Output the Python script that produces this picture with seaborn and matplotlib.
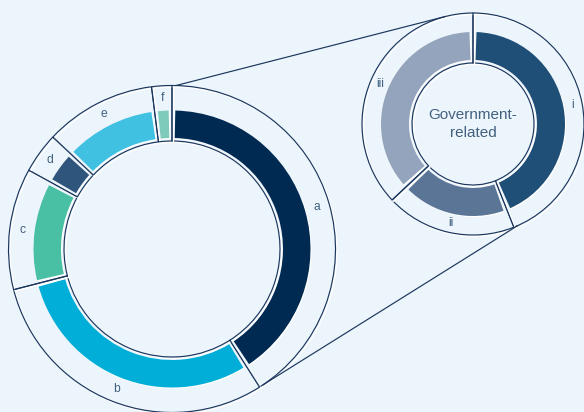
import numpy as np
import matplotlib
matplotlib.use("Agg")
import matplotlib.pyplot as plt
import matplotlib.patheffects as pe
import seaborn as sns

# Portfolio split and the breakdown of its largest slice
sectors = ["a", "b", "c", "d", "e", "f"]
sector_shares = [41, 30, 12, 4, 11, 2]
sub_sectors = ["i", "ii", "iii"]
sub_shares = [44, 19, 37]
centre_label = "Government-\nrelated"

sector_colors = ["#012a52", "#00aed8", "#49bfa4", "#2f557c", "#40c1e2", "#7fcbb9"]
sub_colors = ["#1f4e76", "#5b7596", "#93a4bc"]

BG = "#edf5fc"
LINE = "#1b365d"
TEXT = "#42607f"

sns.set_theme(style="white", rc={"figure.facecolor": BG, "axes.facecolor": BG})
plt.rcParams["font.family"] = ["Liberation Sans", "DejaVu Sans"]

W, H = 584, 412
fig = plt.figure(figsize=(W / 100, H / 100), dpi=100)
ax = fig.add_axes([0, 0, 1, 1])

line_shadow = [pe.SimpleLineShadow(offset=(1.1, -1.1), shadow_color="white", alpha=1.0),
               pe.Normal()]
patch_shadow = [pe.SimplePatchShadow(offset=(0.8, -0.8), shadow_rgbFace="white", alpha=1.0),
                pe.Normal()]


def ring(values, colors, labels, center, r_out, r_line, band_in, band_out, gap):
    """Coloured donut band inside an outlined, segmented ring."""
    wedges, _ = ax.pie(values, colors=colors, radius=band_out, center=center,
                       startangle=90, counterclock=False, frame=True,
                       wedgeprops=dict(width=band_out - band_in, linewidth=0))
    pad = np.degrees(gap / ((band_in + band_out) / 2))
    for w in wedges:
        w.set_theta1(w.theta1 + pad)
        w.set_theta2(w.theta2 - pad)
        w.set_path_effects(patch_shadow)

    r_lab = (band_out + r_out) / 2
    outline, texts = ax.pie(values, labels=labels, radius=r_out, center=center,
                            startangle=90, counterclock=False, frame=True,
                            labeldistance=r_lab / r_out,
                            textprops=dict(color=TEXT, fontsize=8.7),
                            wedgeprops=dict(width=r_out - r_line, facecolor="none",
                                            edgecolor=LINE, linewidth=0.85))
    for w in outline:
        w.set_path_effects(line_shadow)
    for t in texts:
        t.set_ha("center")
        t.set_va("center")
    return wedges


big_c = (172, 163)
big_r = 163.5
small_c = (473, 288)
small_r = 111

big = ring(sector_shares, sector_colors, sectors, big_c, big_r, 108, 111, 138.5, 3.0)
small = ring(sub_shares, sub_colors, sub_sectors, small_c, small_r, 61, 64, 92, 3.0)

ax.text(small_c[0], small_c[1], centre_label, ha="center", va="center",
        fontsize=11, color=TEXT, linespacing=1.3)


def on_circle(c, r, deg):
    t = np.radians(deg)
    return np.array([c[0] + r * np.cos(t), c[1] + r * np.sin(t)])


# Upper connector: from the top of the main ring, tangent to the detail ring
p = on_circle(big_c, big_r, big[0].theta2)
d = np.array(small_c) - p
dist = np.hypot(*d)
base = np.degrees(np.arctan2(-d[1], -d[0]))
tangent = on_circle(small_c, small_r, base - np.degrees(np.arccos(small_r / dist)))
ax.plot([p[0], tangent[0]], [p[1], tangent[1]], color=LINE, lw=0.85)

# Lower connector: end of slice "a" to end of slice "i"
q0 = on_circle(big_c, big_r, big[0].theta1)
q1 = on_circle(small_c, small_r, small[0].theta1)
ax.plot([q0[0], q1[0]], [q0[1], q1[1]], color=LINE, lw=0.85)

ax.set_xlim(0, W)
ax.set_ylim(0, H)
ax.set_aspect("auto")
ax.axis("off")

fig.savefig("out.png", dpi=100, facecolor=BG)
